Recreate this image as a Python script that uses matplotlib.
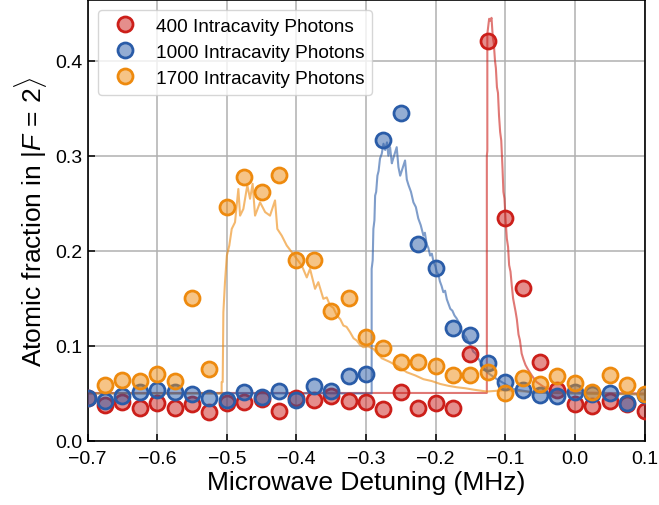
import matplotlib
matplotlib.use("Agg")
import matplotlib.pyplot as plt

plt.rcParams["font.family"] = ["Liberation Sans", "DejaVu Sans"]
plt.rcParams["mathtext.fontset"] = "custom"
plt.rcParams["mathtext.rm"] = "Liberation Sans"
plt.rcParams["mathtext.it"] = "Liberation Sans:italic"

# measured detunings (MHz)
detuning = [-0.7, -0.675, -0.65, -0.625, -0.6, -0.575, -0.55, -0.525, -0.5,
            -0.475, -0.45, -0.425, -0.4, -0.375, -0.35, -0.325, -0.3, -0.275,
            -0.25, -0.225, -0.2, -0.175, -0.15, -0.125, -0.1, -0.075, -0.05,
            -0.025, 0.0, 0.025, 0.05, 0.075, 0.1]

frac_400 = [0.045, 0.038, 0.041, 0.035, 0.040, 0.035, 0.039, 0.031, 0.040,
            0.041, 0.044, 0.032, 0.045, 0.043, 0.047, 0.042, 0.041, 0.034,
            0.052, 0.035, 0.040, 0.035, 0.092, 0.421, 0.234, 0.161, 0.083,
            0.054, 0.039, 0.037, 0.042, 0.039, 0.032]

frac_1000 = [0.045, 0.042, 0.047, 0.051, 0.054, 0.051, 0.049, 0.045, 0.043,
             0.051, 0.046, 0.053, 0.043, 0.058, 0.053, 0.068, 0.070, 0.317,
             0.345, 0.207, 0.182, 0.119, 0.111, 0.082, 0.062, 0.054, 0.048,
             0.047, 0.051, 0.0495, 0.050, 0.040, 0.048]

# no 1700-photon point at -0.7
frac_1700 = [0.059, 0.064, 0.0635, 0.070, 0.0635, 0.150, 0.076, 0.246,
             0.278, 0.262, 0.280, 0.190, 0.190, 0.1365, 0.150, 0.109, 0.0975,
             0.083, 0.083, 0.0786, 0.0695, 0.069, 0.073, 0.050, 0.066, 0.060,
             0.068, 0.061, 0.052, 0.069, 0.059, 0.0495]

# simulated curves
sim_x_400 = [-0.7, -0.1265, -0.1265, -0.1258, -0.1258, -0.1232, -0.1215,
             -0.1198, -0.118, -0.1165, -0.1148, -0.1135, -0.112, -0.1105,
             -0.109, -0.1074, -0.1058, -0.104, -0.1027, -0.1012, -0.0995,
             -0.0978, -0.096, -0.0945, -0.0925, -0.0906, -0.0888, -0.087,
             -0.0852, -0.0834, -0.081, -0.079, -0.0765, -0.074, -0.071,
             -0.068, -0.062, -0.055, -0.045, -0.03, 0.0, 0.1]
sim_y_400 = [0.0505, 0.0505, 0.300, 0.305, 0.428, 0.444, 0.442, 0.445,
             0.425, 0.418, 0.400, 0.392, 0.372, 0.366, 0.342, 0.325, 0.316,
             0.287, 0.262, 0.255, 0.232, 0.213, 0.204, 0.185, 0.178, 0.163,
             0.150, 0.143, 0.136, 0.128, 0.112, 0.106, 0.092, 0.086, 0.080,
             0.076, 0.069, 0.062, 0.057, 0.053, 0.051, 0.050]

sim_x_1000 = [-0.7, -0.292, -0.292, -0.2905, -0.2895, -0.288, -0.287,
              -0.2855, -0.2837, -0.282, -0.280, -0.2775, -0.275, -0.2725,
              -0.270, -0.268, -0.2655, -0.263, -0.261, -0.2585, -0.256,
              -0.2535, -0.251, -0.2475, -0.244, -0.2415, -0.239, -0.2355,
              -0.232, -0.2285, -0.225, -0.2215, -0.2176, -0.2155, -0.213,
              -0.2105, -0.208, -0.2055, -0.203, -0.2005, -0.1984, -0.196,
              -0.194, -0.1915, -0.189, -0.1865, -0.184, -0.1815, -0.179,
              -0.176, -0.173, -0.170, -0.167, -0.1635, -0.160, -0.1565,
              -0.153, -0.1495, -0.146, -0.1425, -0.139, -0.1265, -0.112,
              -0.0883, -0.06, 0.0, 0.1]
sim_y_1000 = [0.050, 0.050, 0.181, 0.190, 0.223, 0.232, 0.258, 0.262, 0.279,
              0.284, 0.297, 0.302, 0.3126, 0.306, 0.314, 0.300, 0.309, 0.292,
              0.297, 0.303, 0.309, 0.288, 0.279, 0.287, 0.295, 0.275, 0.269,
              0.262, 0.251, 0.246, 0.234, 0.227, 0.216, 0.219, 0.207, 0.203,
              0.195, 0.197, 0.188, 0.184, 0.1776, 0.175, 0.168, 0.163,
              0.1565, 0.158, 0.149, 0.144, 0.139, 0.137, 0.132, 0.129, 0.125,
              0.117, 0.112, 0.109, 0.104, 0.100, 0.094, 0.092, 0.087, 0.0723,
              0.065, 0.0547, 0.051, 0.050, 0.049]

sim_x_1700 = [-0.7, -0.5075, -0.5075, -0.506, -0.505, -0.5027, -0.500,
              -0.4965, -0.493, -0.4883, -0.4835, -0.481, -0.4763, -0.4706,
              -0.4667, -0.463, -0.4595, -0.4523, -0.445, -0.438, -0.4308,
              -0.4275, -0.4212, -0.414, -0.4068, -0.3996, -0.3924, -0.3852,
              -0.3805, -0.3733, -0.3686, -0.3614, -0.3565, -0.3517, -0.347,
              -0.342, -0.337, -0.3326, -0.328, -0.323, -0.318, -0.3134,
              -0.3085, -0.3039, -0.297, -0.2895, -0.2775, -0.2655, -0.2535,
              -0.2415, -0.2295, -0.2176, -0.2055, -0.1936, -0.1816, -0.1696,
              -0.1577, -0.1458, -0.1265, -0.10, -0.05, 0.0, 0.1]
sim_y_1700 = [0.050, 0.050, 0.062, 0.062, 0.1355, 0.167, 0.195, 0.2056,
              0.223, 0.230, 0.265, 0.237, 0.244, 0.269, 0.2547, 0.2705,
              0.237, 0.251, 0.2407, 0.237, 0.253, 0.223, 0.216, 0.2056,
              0.1986, 0.1916, 0.1845, 0.172, 0.181, 0.160, 0.167, 0.1495,
              0.151, 0.1424, 0.140, 0.132, 0.128, 0.1214, 0.120, 0.1144,
              0.108, 0.1056, 0.101, 0.0986, 0.0995, 0.0968, 0.087, 0.083,
              0.078, 0.0723, 0.069, 0.065, 0.063, 0.060, 0.058, 0.0565,
              0.0555, 0.054, 0.052, 0.0535, 0.051, 0.050, 0.049]

labels = ["400 Intracavity Photons", "1000 Intracavity Photons",
          "1700 Intracavity Photons"]
colors = ["#cc1f1a", "#2a5ca8", "#ee8a0e"]

fig = plt.figure(figsize=(6.59, 5.06), dpi=100)
ax = fig.add_axes([0.133, 0.1265, 0.845, 0.872])

sims = [(sim_x_400, sim_y_400), (sim_x_1000, sim_y_1000),
        (sim_x_1700, sim_y_1700)]
for (sx, sy), c in zip(sims, colors):
    ax.plot(sx, sy, color=c, alpha=0.6, lw=1.5, zorder=2)

points = [(detuning, frac_400), (detuning, frac_1000), (detuning[1:], frac_1700)]
for (px, py), c, lab in zip(points, colors, labels):
    rgba = matplotlib.colors.to_rgba(c, 0.5)
    ax.plot(px, py, "o", ms=10.8, mew=2.0, mec=c, mfc=rgba, label=lab,
            zorder=3)

ax.set_xlim(-0.7, 0.1)
ax.set_ylim(0.0, 0.464)
ax.set_xticks([-0.7, -0.6, -0.5, -0.4, -0.3, -0.2, -0.1, 0.0, 0.1])
ax.set_yticks([0.0, 0.1, 0.2, 0.3, 0.4])
ax.grid(True, color="#b0b0b0", lw=1.1)
ax.set_axisbelow(True)
ax.tick_params(direction="in", length=5, width=1.1, labelsize=14)
ax.tick_params(axis="x", pad=6.5)
for sp in ax.spines.values():
    sp.set_linewidth(1.2)

ax.set_xlabel("Microwave Detuning (MHz)", fontsize=19, labelpad=2)
ax.set_ylabel(r"Atomic fraction in $|F\,=\,2\rangle$", fontsize=19,
              labelpad=5)

ax.legend(loc="upper left", fontsize=13.7, labelspacing=0.45,
          handletextpad=0.65, borderaxespad=0.55, framealpha=0.8,
          edgecolor="#cccccc")

fig.savefig("out.png", dpi=100)
